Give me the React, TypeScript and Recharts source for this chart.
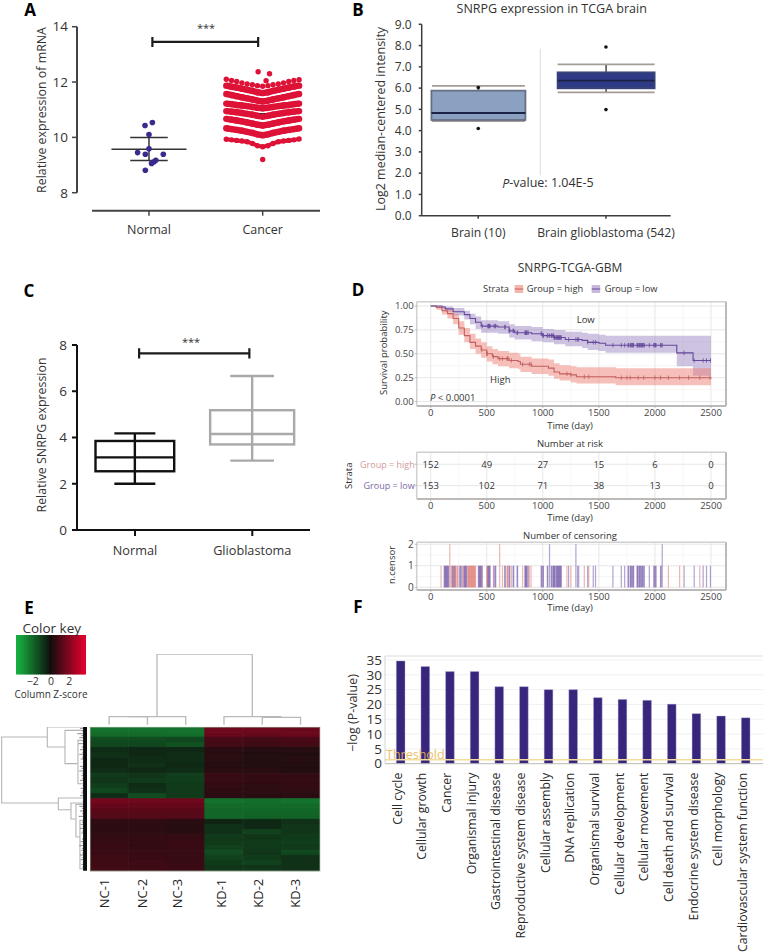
import {
  Area,
  Bar,
  BarChart,
  CartesianGrid,
  Cell,
  ComposedChart,
  Line,
  LineChart,
  ReferenceLine,
  Scatter,
  XAxis,
  YAxis,
} from 'recharts';

const FONT = '"Open Sans", sans-serif';

// ---- panel A
const normalDots = [
  { x: 1.03, y: 10.54 }, { x: 0.965, y: 10.43 }, { x: 1.0, y: 10.1 }, { x: 1.0, y: 9.59 },
  { x: 0.9, y: 9.45 }, { x: 0.968, y: 9.39 }, { x: 1.126, y: 9.39 }, { x: 1.06, y: 9.17 },
  { x: 1.044, y: 9.12 }, { x: 1.023, y: 9.06 }, { x: 0.968, y: 8.81 },
];
const swarmOffsets = [-0.32, -0.274, -0.229, -0.183, -0.137, -0.091, -0.046, 0, 0.046, 0.091, 0.137, 0.183, 0.229, 0.274, 0.32];
const swarmRows = [
  [12.1, 12.06, 12.02, 11.97, 11.93, 11.9, 11.87, 11.85, 11.87, 11.9, 11.93, 11.97, 12.02, 12.06, 12.08],
  [11.87, 11.83, 11.8, 11.76, 11.72, 11.68, 11.63, 11.6, 11.63, 11.68, 11.72, 11.76, 11.8, 11.84, 11.87],
  [11.57, 11.53, 11.49, 11.45, 11.41, 11.37, 11.33, 11.3, 11.33, 11.37, 11.41, 11.45, 11.49, 11.53, 11.57],
  [11.22, 11.2, 11.17, 11.15, 11.13, 11.1, 11.07, 11.05, 11.07, 11.1, 11.13, 11.15, 11.17, 11.2, 11.22],
  [10.95, 10.93, 10.91, 10.88, 10.85, 10.82, 10.78, 10.75, 10.78, 10.82, 10.85, 10.88, 10.91, 10.93, 10.95],
  [10.67, 10.64, 10.61, 10.58, 10.54, 10.5, 10.46, 10.43, 10.46, 10.5, 10.54, 10.58, 10.61, 10.64, 10.67],
  [10.33, 10.3, 10.27, 10.24, 10.2, 10.16, 10.11, 10.08, 10.11, 10.16, 10.2, 10.24, 10.27, 10.3, 10.33],
  [9.93, 9.91, 9.89, 9.87, 9.84, 9.78, 9.7, 9.66, 9.7, 9.78, 9.84, 9.87, 9.89, 9.91, 9.94],
];
const cancerOutliers = [
  { x: 1.96, y: 12.37 }, { x: 2.06, y: 12.3 }, { x: 2.03, y: 12.05 }, { x: 2.0, y: 9.2 },
];

// ---- panels B and C
const brainBoxes = [
  { x: 1, low: 4.45, q1: 4.5, median: 4.83, q3: 5.88, high: 6.1 },
  { x: 2, low: 5.8, q1: 5.99, median: 6.35, q3: 6.74, high: 7.12 },
];
const brainOutliers = [
  { x: 1, y: 6.03 }, { x: 1, y: 4.1 }, { x: 2, y: 7.93 }, { x: 2, y: 4.99 },
];
const brainTicks = [0, 1, 2, 3, 4, 5, 6, 7, 8, 9];
const brainNames = ['Brain (10)', 'Brain glioblastoma (542)'];

const gbmBoxes = [
  { x: 1, low: 2.0, q1: 2.54, median: 3.14, q3: 3.85, high: 4.18 },
  { x: 2, low: 3.0, q1: 3.7, median: 4.15, q3: 5.18, high: 6.66 },
];
const gbmNames = ['Normal', 'Glioblastoma'];

// ---- panel D
const highT = [0, 50, 100, 150, 200, 250, 300, 350, 400, 450, 500, 550, 600, 700, 780, 800, 900, 1050, 1100, 1150, 1250, 1300, 1650, 2500];
const highS = [1, 0.985, 0.95, 0.92, 0.87, 0.77, 0.69, 0.62, 0.58, 0.54, 0.5, 0.47, 0.45, 0.43, 0.42, 0.39, 0.37, 0.35, 0.31, 0.29, 0.28, 0.26, 0.25, 0.24];
const highUpper = [1, 1, 0.98, 0.96, 0.92, 0.84, 0.77, 0.71, 0.66, 0.62, 0.58, 0.55, 0.53, 0.51, 0.5, 0.47, 0.45, 0.44, 0.4, 0.38, 0.37, 0.36, 0.35, 0.35];
const highLower = [1, 0.96, 0.91, 0.87, 0.81, 0.7, 0.62, 0.55, 0.5, 0.46, 0.42, 0.39, 0.37, 0.35, 0.34, 0.31, 0.29, 0.27, 0.24, 0.22, 0.2, 0.19, 0.17, 0.17];
const lowT = [0, 100, 130, 200, 300, 350, 400, 450, 600, 700, 750, 900, 1000, 1100, 1200, 1350, 1400, 1500, 1560, 2195, 2340, 2500];
const lowS = [1, 0.99, 0.97, 0.94, 0.91, 0.87, 0.83, 0.79, 0.78, 0.74, 0.72, 0.71, 0.69, 0.67, 0.65, 0.64, 0.62, 0.61, 0.59, 0.51, 0.43, 0.43];
const lowUpper = [1, 1, 0.995, 0.98, 0.95, 0.92, 0.89, 0.85, 0.84, 0.81, 0.79, 0.78, 0.76, 0.75, 0.73, 0.72, 0.71, 0.7, 0.69, 0.69, 0.69, 0.69];
const lowLower = [1, 0.97, 0.94, 0.9, 0.86, 0.81, 0.76, 0.72, 0.71, 0.67, 0.65, 0.63, 0.62, 0.6, 0.58, 0.56, 0.54, 0.53, 0.51, 0.37, 0.27, 0.27];

const highCensor1 = [92, 180, 195, 205, 210, 220, 225, 235, 240, 290, 295, 330, 335, 340, 345, 350, 355, 360, 365, 370, 375, 380, 385, 390, 395, 400, 455, 500, 505, 560, 640, 680, 685, 690, 720, 820, 880, 895, 1215, 1250, 1370, 1410, 2120, 2220, 2400];
const highCensor2 = [170, 615];
const lowCensor1 = [120, 125, 130, 135, 140, 145, 150, 155, 160, 190, 200, 215, 255, 265, 270, 280, 300, 305, 310, 315, 320, 425, 430, 435, 440, 445, 450, 460, 510, 515, 520, 525, 530, 565, 575, 580, 660, 665, 700, 705, 735, 740, 770, 775, 840, 845, 850, 855, 860, 870, 985, 990, 1000, 1005, 1040, 1045, 1075, 1080, 1090, 1095, 1100, 1105, 1110, 1120, 1125, 1130, 1135, 1140, 1145, 1150, 1155, 1160, 1165, 1230, 1310, 1320, 1400, 1450, 1470, 1625, 1700, 1730, 1760, 1765, 1780, 1785, 1790, 1800, 1805, 1810, 1840, 1845, 1850, 1860, 1865, 1870, 1880, 1885, 1890, 1900, 1905, 1950, 1990, 1995, 2005, 2010, 2050, 2055, 2260, 2350, 2430, 2460, 2495];
const lowCensor2 = [1060, 1295, 2065];
const highExtraMarks = [1700, 1750, 1780, 1850, 1900, 2000, 2050, 2300, 2490];

const riskTimes = [0, 500, 1000, 1500, 2000, 2500];
const riskHigh = [152, 49, 27, 15, 6, 0];
const riskLow = [153, 102, 71, 38, 13, 0];

// ---- panel E
const heatColumns = ['NC-1', 'NC-2', 'NC-3', 'KD-1', 'KD-2', 'KD-3'];
const heatRows = [
  [-2.2, -2.2, -2.2, 1.7, 1.7, 1.6],
  [-2.0, -2.0, -2.1, 1.6, 1.5, 1.6],
  [-1.3, -1.3, -1.2, 1.0, 0.9, 1.0],
  [-1.2, -1.2, -1.4, 0.9, 0.8, 0.9],
  [-0.6, -0.5, -0.5, 0.45, 0.35, 0.35],
  [-0.7, -0.5, -0.6, 0.4, 0.3, 0.3],
  [-0.5, -0.6, -0.6, 0.4, 0.3, 0.35],
  [-0.5, -0.7, -0.5, 0.35, 0.3, 0.3],
  [-0.6, -0.5, -0.6, 0.4, 0.4, 0.3],
  [-0.9, -0.8, -1.0, 0.7, 0.6, 0.6],
  [-0.8, -0.9, -1.0, 0.7, 0.6, 0.65],
  [-1.0, -0.6, -0.9, 0.6, 0.5, 0.6],
  [-1.2, -0.7, -0.9, 0.5, 0.5, 0.55],
  [-0.6, -1.3, -0.9, 0.45, 0.4, 0.45],
  [1.8, 1.7, 1.7, -2.2, -2.1, -2.2],
  [1.5, 1.5, 1.5, -2.0, -2.0, -2.0],
  [1.3, 1.3, 1.3, -1.9, -1.9, -1.9],
  [1.2, 1.2, 1.2, -1.9, -1.8, -1.8],
  [0.5, 0.5, 0.4, -0.4, -0.5, -0.7],
  [0.45, 0.45, 0.35, -0.7, -0.5, -0.8],
  [0.5, 0.5, 0.4, -0.7, -1.1, -0.8],
  [0.6, 0.6, 0.6, -0.9, -0.8, -0.9],
  [0.65, 0.6, 0.7, -0.9, -0.9, -1.0],
  [0.7, 0.6, 0.7, -1.1, -0.9, -0.9],
  [0.7, 0.7, 0.7, -1.3, -0.8, -1.2],
  [0.8, 0.7, 0.7, -1.1, -0.9, -0.7],
  [0.8, 0.8, 0.7, -0.9, -1.1, -0.7],
  [0.85, 0.8, 0.75, -0.8, -0.8, -0.7],
];
const keySteps = [-3.75, -3.5, -3.25, -3, -2.75, -2.5, -2.25, -2, -1.75, -1.5, -1.25, -1, -0.75, -0.5, -0.25, 0, 0.25, 0.5, 0.75, 1, 1.25, 1.5, 1.75, 2, 2.25, 2.5, 2.75, 3, 3.25, 3.5, 3.75];
const colLinks = [
  [[1, 0], [1, 24], [2, 24], [2, 0]],
  [[1.5, 24], [3, 24], [3, 0]],
  [[2.25, 24], [2.25, 212], [4.74, 212], [4.74, 24]],
  [[4, 0], [4, 24], [5.5, 24]],
  [[5, 0], [5, 22], [6, 22], [6, 0]],
];
const rowLinks = [
  [[142, 30], [5, 30], [5, 228], [175, 228]],
  [[262, 0], [142, 0], [142, 60], [195, 60]],
  [[262, 10], [195, 10], [195, 110], [232, 110]],
  [[262, 213], [175, 213], [175, 248], [213, 248]],
  [[262, 228], [213, 228], [213, 276], [228, 276]],
  [[262, 232], [228, 232], [228, 330], [240, 330]],
  [[262, 40], [234, 40], [234, 170], [262, 170]],
  [[262, 280], [240, 280], [240, 425], [262, 425]],
];
const rowTwigs = [
  [240, 4], [232, 20], [238, 32], [236, 50], [240, 68], [238, 82], [242, 96], [240, 118], [238, 132], [244, 146], [240, 160], [242, 184], [244, 198], [240, 206],
  [238, 238], [240, 252], [236, 268], [242, 292], [240, 304], [244, 318], [242, 344], [238, 356], [244, 370], [240, 384], [242, 398], [244, 412],
  [246, 12], [244, 26], [248, 44], [245, 60], [247, 76], [246, 90], [248, 106], [245, 124], [247, 140], [246, 154], [248, 176], [246, 192], [248, 222],
  [246, 244], [247, 260], [246, 286], [248, 298], [247, 312], [246, 336], [248, 350], [246, 364], [247, 378], [246, 392], [248, 406], [247, 420],
];

// ---- panel F
const pathways = [
  'Cell cycle', 'Cellular growth', 'Cancer', 'Organismal injury', 'Gastrointestinal disease',
  'Reproductive system disease', 'Cellular assembly', 'DNA replication', 'Organismal survival',
  'Cellular development', 'Cellular movement', 'Cell death and survival', 'Endocrine system disease',
  'Cell morphology', 'Cardiovascular system function',
];
const pathwayValues = [34.7, 32.8, 31.1, 31.1, 26, 26, 25, 25, 22.3, 21.7, 21.4, 20.1, 16.9, 16.1, 15.5];
const pathwayTicks = [0, 5, 10, 15, 20, 25, 30, 35];

// ---- helpers
const zip = (t: number[], s: number[], lo: number[], hi: number[]) =>
  t.map((v, i) => ({ t: v, s: s[i], band: [lo[i], hi[i]] }));
const highCurve = zip(highT, highS, highLower, highUpper);
const lowCurve = zip(lowT, lowS, lowLower, lowUpper);

const stepValue = (curve: { t: number; s: number }[], t: number) => {
  let out = curve[0].s;
  curve.forEach((p) => {
    if (p.t <= t) out = p.s;
  });
  return out;
};
const highMarks = [...highCensor1, ...highCensor2]
  .filter((t) => t > 450)
  .concat(highExtraMarks)
  .map((t) => ({ t, s: stepValue(highCurve, t) }));
const lowMarks = [...lowCensor1, ...lowCensor2]
  .filter((t) => t > 450)
  .map((t) => ({ t, s: stepValue(lowCurve, t) }));

const censorTable = [
  ...highCensor1.map((t) => ({ t, high: 1, low: 0 })),
  ...highCensor2.map((t) => ({ t, high: 2, low: 0 })),
  ...lowCensor1.map((t) => ({ t, high: 0, low: 1 })),
  ...lowCensor2.map((t) => ({ t, high: 0, low: 2 })),
].sort((a, b) => a.t - b.t);

const riskTable = [
  ...riskTimes.map((t, i) => ({ t, row: 1, n: riskHigh[i] })),
  ...riskTimes.map((t, i) => ({ t, row: 0, n: riskLow[i] })),
];

const heatTable = heatColumns.map((name) => {
  const row: Record<string, number | string> = { name };
  heatRows.forEach((_, r) => {
    row[`r${r}`] = 1;
  });
  return row;
});

const pathwayTable = pathways.map((name, i) => ({ name, value: pathwayValues[i] }));

const toPts = (pts: number[][]) => pts.map(([x, y]) => ({ x, y }));
const bracket = (x1: number, x2: number, y: number, cap: number) =>
  toPts([[x1, y - cap], [x1, y + cap], [x1, y], [x2, y], [x2, y + cap], [x2, y - cap]]);

const heatColor = (z: number) => {
  const mix = (a: number[], b: number[], k: number) =>
    `rgb(${a.map((v, i) => Math.round(v + (b[i] - v) * k)).join(',')})`;
  if (z < 0) return mix([14, 18, 14], [22, 172, 62], Math.min(-z / 3.5, 1));
  return mix([18, 14, 14], [226, 0, 46], Math.min(z / 3.8, 1));
};

// draws a box and its whiskers from the range bar Recharts hands over
const boxShape = (st: any) => (p: any) => {
  const d = p.payload;
  const unit = Math.abs(p.height) / (d.q3 - d.q1);
  const yOf = (v: number) => p.y + (d.q3 - v) * unit;
  const cx = p.x + p.width / 2;
  const i = d.x - 1;
  const hb = st.box[i] / 2;
  const hc = st.capWidth[i] / 2;
  return (
    <g>
      <line x1={cx} x2={cx} y1={yOf(d.high)} y2={yOf(d.low)} stroke={st.whisker[i]} strokeWidth={st.strokeWidth} />
      <line x1={cx - hc} x2={cx + hc} y1={yOf(d.high)} y2={yOf(d.high)} stroke={st.cap[i]} strokeWidth={st.strokeWidth} />
      <line x1={cx - hc} x2={cx + hc} y1={yOf(d.low)} y2={yOf(d.low)} stroke={st.cap[i]} strokeWidth={st.strokeWidth} />
      <rect x={cx - hb} y={yOf(d.q3)} width={hb * 2} height={yOf(d.q1) - yOf(d.q3)} fill={st.fill[i]} stroke={st.stroke[i]} strokeWidth={st.strokeWidth} />
      <line x1={cx - hb} x2={cx + hb} y1={yOf(d.median)} y2={yOf(d.median)} stroke={st.median[i]} strokeWidth={st.strokeWidth} />
    </g>
  );
};

// bars sit closer than their width, so the width is set here and not by the band
const CensorBar = (color: string) => (p: any) =>
  p.height ? <rect x={p.x + p.width / 2 - 0.6} y={p.y} width={1.2} height={p.height} fill={color} fillOpacity={0.5} /> : <g />;
const KeyBar = (p: any) => (
  <rect x={p.x + p.width / 2 - 2} y={p.y} width={4} height={p.height} fill={heatColor(p.payload.z)} />
);

const Dot = (color: string, r: number) => (p: any) => <circle cx={p.cx} cy={p.cy} r={r} fill={color} />;
const CensorMark = (color: string) => (p: any) => (
  <line x1={p.cx} x2={p.cx} y1={p.cy - 2.2} y2={p.cy + 2.2} stroke={color} strokeWidth={0.8} />
);
const RiskText = (p: any) => (
  <text x={p.cx} y={p.cy} textAnchor="middle" dominantBaseline="central" fontSize={9.5} fill="#333">
    {p.payload.n}
  </text>
);
const RiskRowTick = (p: any) => (
  <text x={p.x + 1} y={p.y} textAnchor="end" dominantBaseline="central" fontSize={9} fill={p.payload.value === 1 ? '#cf9a9a' : '#7d67a8'}>
    {p.payload.value === 1 ? 'Group = high' : 'Group = low'}
  </text>
);
const heatNudge = [-4.1, -4.8, -7.7, -2, -3.3, -5];
const HeatTick = (p: any) => (
  <text
    transform={`translate(${p.x + heatNudge[p.index] + 4},${p.y}) rotate(-90)`}
    textAnchor="end"
    fontSize={13}
    fill="#222"
  >
    {p.payload.value}
  </text>
);
const PathwayTick = (p: any) => (
  <text
    transform={`translate(${p.x + 1.2},${p.y}) rotate(-90)`}
    textAnchor="end"
    fontSize={12.3}
    fill="#2a2a2a"
  >
    {p.payload.value}
  </text>
);

const T = ({ x, y, size = 13, anchor = 'middle', rot, fill = '#333', weight, opacity, children }: any) => (
  <text
    x={x}
    y={y}
    fontSize={size}
    textAnchor={anchor}
    dominantBaseline="central"
    fill={fill}
    fontWeight={weight}
    opacity={opacity}
    transform={rot ? `rotate(${rot} ${x} ${y})` : undefined}
  >
    {children}
  </text>
);

const at = (left: number, top: number): React.CSSProperties => ({ position: 'absolute', left, top });

const PanelA = () => (
  <div style={at(0, 0)}>
    <ComposedChart width={330} height={250} margin={{ top: 26.7, right: 10, bottom: 0, left: 0 }}>
      <XAxis
        dataKey="x"
        type="number"
        domain={[0.367, 2.504]}
        ticks={[1, 2]}
        height={39.3}
        tickFormatter={(v) => (v === 1 ? 'Normal' : 'Cancer')}
        axisLine={false}
        tickLine={{ stroke: '#444', strokeWidth: 1.5 }}
        tickSize={5}
        tickMargin={9}
        tick={{ fontSize: 12.5, fill: '#333' }}
      />
      <YAxis
        type="number"
        domain={[7.35, 14]}
        ticks={[8, 10, 12, 14]}
        interval={0}
        width={77}
        axisLine={false}
        tickLine={{ stroke: '#444', strokeWidth: 1.5 }}
        tickSize={5}
        tickMargin={4}
        tick={{ fontSize: 13.5, fill: '#333' }}
      />
      <Line data={toPts([[0.367, 8], [0.367, 14]])} dataKey="y" stroke="#444" strokeWidth={2} dot={false} isAnimationActive={false} />
      <Line data={toPts([[0.499, 7.35], [2.504, 7.35]])} dataKey="y" stroke="#444" strokeWidth={2} dot={false} isAnimationActive={false} />
      <Line data={bracket(1.03, 1.96, 13.45, 0.18)} dataKey="y" stroke="#1c1c1c" strokeWidth={2.2} dot={false} isAnimationActive={false} />
      {swarmRows.map((row, r) => (
        <Line
          key={r}
          data={row.map((y, i) => ({ x: 2 + swarmOffsets[i], y }))}
          dataKey="y"
          stroke={r === 0 ? 'none' : '#dd1236'}
          strokeWidth={r === 7 ? 4 : 6.4}
          dot={{ r: r === 0 || r === 7 ? 2.7 : 3.2, fill: '#dd1236', stroke: 'none' }}
          isAnimationActive={false}
        />
      ))}
      <Scatter data={cancerOutliers} dataKey="y" shape={Dot('#dd1236', 2.7)} isAnimationActive={false} />
      <Scatter data={normalDots} dataKey="y" shape={Dot('#3b2a8e', 2.8)} isAnimationActive={false} />
      <Line data={toPts([[1.905, 10.85], [2.095, 10.85]])} dataKey="y" stroke="#222" strokeWidth={1.5} dot={false} isAnimationActive={false} />
      <Line data={toPts([[0.67, 9.57], [1.33, 9.57]])} dataKey="y" stroke="#333" strokeWidth={1.5} dot={false} isAnimationActive={false} />
      <Line data={toPts([[0.835, 10], [1.165, 10]])} dataKey="y" stroke="#333" strokeWidth={1.5} dot={false} isAnimationActive={false} />
      <Line data={toPts([[0.835, 9.16], [1.165, 9.16]])} dataKey="y" stroke="#333" strokeWidth={1.5} dot={false} isAnimationActive={false} />
      <Line data={toPts([[1, 9.16], [1, 10]])} dataKey="y" stroke="#333" strokeWidth={1.5} dot={false} isAnimationActive={false} />
    </ComposedChart>
  </div>
);

const PanelB = () => (
  <div style={at(340, 0)}>
    <ComposedChart width={350} height={250} data={brainBoxes} margin={{ top: 24.3, right: 19.3, bottom: 0, left: 0 }}>
      <XAxis
        dataKey="x"
        type="number"
        domain={[0.557, 2.507]}
        ticks={[1, 2]}
        height={34.3}
        tickFormatter={(v) => brainNames[v - 1]}
        axisLine={{ stroke: '#3d3d3d', strokeWidth: 1.5 }}
        tickLine={{ stroke: '#3d3d3d', strokeWidth: 1.5 }}
        tickSize={3}
        tickMargin={10}
        tick={{ fontSize: 12.2, fill: '#333' }}
      />
      <YAxis
        type="number"
        domain={[0, 9]}
        ticks={brainTicks}
        interval={0}
        tickFormatter={(v) => v.toFixed(1)}
        width={81.7}
        axisLine={{ stroke: '#3d3d3d', strokeWidth: 1.5 }}
        tickLine={{ stroke: '#3d3d3d', strokeWidth: 1.5 }}
        tickSize={3}
        tickMargin={7}
        tick={{ fontSize: 12, fill: '#333' }}
      />
      <ReferenceLine segment={[{ x: 1.485, y: 7.85 }, { x: 1.485, y: 1.9 }]} stroke="#ddd" strokeWidth={1} />
      <Bar
        dataKey={(d: any) => [d.q1, d.q3]}
        barSize={96}
        isAnimationActive={false}
        shape={boxShape({
          fill: ['#8aa1c1', '#2f3a86'],
          stroke: ['#667085', '#3b4478'],
          median: ['#1a2447', '#1a2447'],
          whisker: ['#666', '#666'],
          cap: ['#a39d94', '#a39d94'],
          strokeWidth: 1.8,
          box: [94, 97],
          capWidth: [93, 97],
        })}
      />
      <Scatter data={brainOutliers} dataKey="y" shape={Dot('#111', 1.8)} isAnimationActive={false} />
    </ComposedChart>
  </div>
);

const PanelC = () => (
  <div style={at(0, 330)}>
    <ComposedChart width={330} height={230} data={gbmBoxes} margin={{ top: 15, right: 20, bottom: 0, left: 0 }}>
      <XAxis
        dataKey="x"
        type="number"
        domain={[0.5055, 2.492]}
        ticks={[1, 2]}
        height={30}
        tickFormatter={(v) => gbmNames[v - 1]}
        axisLine={{ stroke: '#111', strokeWidth: 2 }}
        tickLine={{ stroke: '#111', strokeWidth: 2 }}
        tickSize={6}
        tickMargin={10}
        tick={{ fontSize: 12.7, fill: '#333' }}
      />
      <YAxis
        type="number"
        domain={[0, 8]}
        ticks={[0, 2, 4, 6, 8]}
        interval={0}
        width={77}
        axisLine={{ stroke: '#111', strokeWidth: 2 }}
        tickLine={{ stroke: '#111', strokeWidth: 2 }}
        tickSize={5}
        tickMargin={5}
        tick={{ fontSize: 13.5, fill: '#333' }}
      />
      <Line data={bracket(1.035, 1.975, 7.64, 0.22)} dataKey="y" stroke="#1c1c1c" strokeWidth={2.2} dot={false} isAnimationActive={false} />
      <Bar
        dataKey={(d: any) => [d.q1, d.q3]}
        barSize={84}
        isAnimationActive={false}
        shape={boxShape({
          fill: ['none', 'none'],
          stroke: ['#111', '#a9a9a9'],
          median: ['#111', '#a9a9a9'],
          whisker: ['#111', '#a9a9a9'],
          cap: ['#111', '#a9a9a9'],
          strokeWidth: 2.4,
          box: [78.7, 84],
          capWidth: [41, 43.7],
        })}
      />
    </ComposedChart>
  </div>
);

const dTicks = [0, 500, 1000, 1500, 2000, 2500];
const dMinorX = [250, 750, 1250, 1750, 2250];
const dAxis = (height: number) => (
  <XAxis
    dataKey="t"
    type="number"
    domain={[-124.9, 2633.8]}
    ticks={dTicks}
    interval={0}
    height={height}
    axisLine={{ stroke: '#bdb9b9', strokeWidth: 2 }}
    tickLine={{ stroke: '#999', strokeWidth: 0.6 }}
    tickSize={2}
    tickMargin={1}
    tick={{ fontSize: 9.5, fill: '#444' }}
  />
);

const PanelD = () => (
  <div style={at(370, 295)}>
    <ComposedChart width={393} height={131} margin={{ top: 6.7, right: 37, bottom: 0, left: 0 }}>
      <CartesianGrid verticalValues={dMinorX} horizontalValues={[0.125, 0.375, 0.625, 0.875]} stroke="#f2f2f2" strokeWidth={0.7} />
      <CartesianGrid verticalValues={dTicks} horizontalValues={[0, 0.25, 0.5, 0.75, 1]} stroke="#e7e7e7" strokeWidth={1} />
      {dAxis(20)}
      <YAxis
        type="number"
        domain={[-0.046, 1.045]}
        ticks={[0, 0.25, 0.5, 0.75, 1]}
        interval={0}
        tickFormatter={(v) => v.toFixed(2)}
        width={46.7}
        axisLine={{ stroke: '#d2cfcf', strokeWidth: 1.5 }}
        tickLine={{ stroke: '#999', strokeWidth: 0.6 }}
        tickSize={2}
        tickMargin={1}
        tick={{ fontSize: 9.5, fill: '#444' }}
      />
      <ReferenceLine y={1.045} stroke="#d2cfcf" strokeWidth={1.5} />
      <ReferenceLine x={2633.8} stroke="#bdb9b9" strokeWidth={2} />
      <Area data={lowCurve} dataKey="band" type="stepAfter" fill="#8a6fb5" fillOpacity={0.42} stroke="none" isAnimationActive={false} />
      <Area data={highCurve} dataKey="band" type="stepAfter" fill="#ee8075" fillOpacity={0.5} stroke="none" isAnimationActive={false} />
      <Line data={highCurve} dataKey="s" type="stepAfter" stroke="#c4605f" strokeWidth={1.1} dot={false} isAnimationActive={false} />
      <Line data={lowCurve} dataKey="s" type="stepAfter" stroke="#66499c" strokeWidth={1.1} dot={false} isAnimationActive={false} />
      <Scatter data={highMarks} dataKey="s" shape={CensorMark('#c4605f')} isAnimationActive={false} />
      <Scatter data={lowMarks} dataKey="s" shape={CensorMark('#66499c')} isAnimationActive={false} />
    </ComposedChart>
  </div>
);

const PanelRisk = () => (
  <div style={at(340, 445)}>
    <ComposedChart width={423} height={75} margin={{ top: 7.3, right: 37, bottom: 0, left: 0 }}>
      <CartesianGrid verticalValues={dMinorX} horizontal={false} stroke="#f2f2f2" strokeWidth={0.7} />
      <CartesianGrid verticalValues={dTicks} horizontalValues={[0, 1]} stroke="#e7e7e7" strokeWidth={1} />
      {dAxis(21)}
      <YAxis
        type="number"
        domain={[-0.62, 1.56]}
        ticks={[0, 1]}
        interval={0}
        width={76.7}
        axisLine={{ stroke: '#d2cfcf', strokeWidth: 1.5 }}
        tickLine={{ stroke: '#999', strokeWidth: 0.6 }}
        tickSize={2}
        tickMargin={1}
        tick={RiskRowTick}
      />
      <ReferenceLine y={1.56} stroke="#d2cfcf" strokeWidth={1.5} />
      <ReferenceLine x={2633.8} stroke="#bdb9b9" strokeWidth={2} />
      <Scatter data={riskTable} dataKey="row" shape={RiskText} isAnimationActive={false} />
    </ComposedChart>
  </div>
);

const PanelCensor = () => (
  <div style={at(370, 535)}>
    <ComposedChart width={393} height={76} data={censorTable} margin={{ top: 7.3, right: 37, bottom: 0, left: 0 }}>
      <CartesianGrid verticalValues={dMinorX} horizontalValues={[0.5, 1.5]} stroke="#f2f2f2" strokeWidth={0.7} />
      <CartesianGrid verticalValues={dTicks} horizontalValues={[0, 1, 2]} stroke="#e7e7e7" strokeWidth={1} />
      {dAxis(21)}
      <YAxis
        type="number"
        domain={[-0.125, 2.09]}
        ticks={[0, 1, 2]}
        interval={0}
        width={46.7}
        axisLine={{ stroke: '#d2cfcf', strokeWidth: 1.5 }}
        tickLine={{ stroke: '#999', strokeWidth: 0.6 }}
        tickSize={2}
        tickMargin={1}
        tick={{ fontSize: 10, fill: '#444' }}
      />
      <ReferenceLine y={2.09} stroke="#d2cfcf" strokeWidth={1.5} />
      <ReferenceLine x={2633.8} stroke="#bdb9b9" strokeWidth={2} />
      <Bar dataKey="high" stackId="n" shape={CensorBar('#dc6f66')} isAnimationActive={false} />
      <Bar dataKey="low" stackId="n" shape={CensorBar('#6647a0')} isAnimationActive={false} />
    </ComposedChart>
  </div>
);

const KeyChart = () => (
  <div style={at(16.3, 635.3)}>
    <BarChart
      width={70}
      height={54}
      data={keySteps.map((z) => ({ z, v: 1 }))}
      margin={{ top: 0, right: 0, bottom: 0, left: 0 }}
    >
      <XAxis
        dataKey="z"
        type="number"
        domain={[-3.85, 3.85]}
        ticks={[-2, 0, 2]}
        interval={0}
        height={14.6}
        tickFormatter={(v) => (v < 0 ? `\u2212${-v}` : `${v}`)}
        axisLine={false}
        tickLine={false}
        tickSize={0}
        tickMargin={3}
        tick={{ fontSize: 10.5, fill: '#333' }}
      />
      <YAxis hide domain={[0, 1]} />
      <Bar dataKey="v" shape={KeyBar} isAnimationActive={false} />
    </BarChart>
  </div>
);

const HeatChart = () => (
  <div style={at(90.3, 727.3)}>
    <BarChart
      width={229.7}
      height={210}
      data={heatTable}
      barCategoryGap={0}
      margin={{ top: 0, right: 0, bottom: 0, left: 0 }}
    >
      <XAxis
        dataKey="name"
        height={66.3}
        interval={0}
        axisLine={false}
        tickLine={false}
        tickSize={0}
        tickMargin={8}
        tick={HeatTick}
      />
      <YAxis hide reversed domain={[0, heatRows.length]} />
      {heatRows.map((row, r) => (
        <Bar key={r} dataKey={`r${r}`} stackId="h" isAnimationActive={false}>
          {row.map((z, c) => (
            <Cell key={c} fill={heatColor(z)} stroke={heatColor(z)} strokeWidth={1} />
          ))}
        </Bar>
      ))}
    </BarChart>
  </div>
);

const ColTree = () => (
  <div style={at(90.3, 654.3)}>
    <LineChart width={229.7} height={70.7} margin={{ top: 0, right: 0, bottom: 0, left: 0 }}>
      <XAxis hide dataKey="x" type="number" domain={[0.5, 6.5]} />
      <YAxis hide type="number" domain={[0, 212]} />
      {colLinks.map((link, i) => (
        <Line key={i} data={toPts(link)} dataKey="y" stroke="#b9b9b9" strokeWidth={1.3} dot={false} isAnimationActive={false} />
      ))}
    </LineChart>
  </div>
);

const RowTree = () => (
  <div style={at(0, 727.3)}>
    <LineChart width={87.3} height={143.7} margin={{ top: 0, right: 0, bottom: 0, left: 0 }}>
      <XAxis hide dataKey="x" type="number" domain={[0, 262]} />
      <YAxis hide reversed type="number" domain={[0, 431]} />
      {rowLinks.map((link, i) => (
        <Line key={i} data={toPts(link)} dataKey="y" stroke="#b5b5b5" strokeWidth={1.1} dot={false} isAnimationActive={false} />
      ))}
      {rowTwigs.map(([h, pos], i) => (
        <Line key={`t${i}`} data={toPts([[h, pos], [262, pos]])} dataKey="y" stroke="#6e6e6e" strokeWidth={0.8} dot={false} isAnimationActive={false} />
      ))}
      <Line data={toPts([[256, 0], [256, 431]])} dataKey="y" stroke="#0c0c0c" strokeWidth={4.4} dot={false} isAnimationActive={false} />
    </LineChart>
  </div>
);

const PanelF = () => (
  <div style={at(350, 640)}>
    <BarChart width={413} height={312} data={pathwayTable} margin={{ top: 16, right: 0, bottom: 0, left: 0 }}>
      <CartesianGrid vertical={false} horizontalValues={pathwayTicks.slice(1)} stroke="#f1f1f1" strokeWidth={1} />
      <XAxis
        dataKey="name"
        interval={0}
        height={188.3}
        padding={{ left: 3.3, right: 5 }}
        axisLine={{ stroke: '#b9b9b9', strokeWidth: 1 }}
        tickLine={false}
        tickSize={0}
        tickMargin={9}
        tick={PathwayTick}
      />
      <YAxis
        type="number"
        domain={[0, 36.35]}
        ticks={pathwayTicks}
        interval={0}
        width={35}
        axisLine={{ stroke: '#d4d4d4', strokeWidth: 1 }}
        tickLine={false}
        tickSize={0}
        tickMargin={3}
        tick={{ fontSize: 13.5, fill: '#333' }}
      />
      <ReferenceLine y={36.35} stroke="#dcdcdc" strokeWidth={1} />
      <Bar dataKey="value" barSize={8.7} fill="#38267c" stroke="#b9b2d6" strokeWidth={0.4} isAnimationActive={false} />
      <ReferenceLine y={1.3} stroke="#f3dca0" strokeWidth={1.5} />
    </BarChart>
  </div>
);

const Overlay = () => (
  <svg width={763} height={952} style={{ position: 'absolute', left: 0, top: 0, pointerEvents: 'none' }}>
    <T x={30} y={9.5} size={17} weight={700} fill="#000">A</T>
    <T x={358} y={9.5} size={17} weight={700} fill="#000">B</T>
    <T x={29} y={290} size={17} weight={700} fill="#000">C</T>
    <T x={358} y={289} size={17} weight={700} fill="#000">D</T>
    <T x={29} y={607} size={17} weight={700} fill="#000">E</T>
    <T x={358} y={606} size={17} weight={700} fill="#000">F</T>

    <T x={41} y={110} size={12.4} rot={-90}>Relative expression of mRNA</T>
    <T x={206} y={27} size={11}>***</T>
    <T x={380} y={119} size={12.5} rot={-90}>Log2 median-centered intensity</T>
    <T x={551.7} y={8} size={12.5}>SNRPG expression in TCGA brain</T>
    <text x={548} y={182.7} fontSize={12.5} textAnchor="middle" dominantBaseline="central" fill="#333">
      <tspan fontStyle="italic">P</tspan>-value: 1.04E-5
    </text>
    <T x={41} y={435} size={12.4} rot={-90}>Relative SNRPG expression</T>
    <T x={191} y={341} size={11}>***</T>

    <T x={570} y={267} size={12}>SNRPG-TCGA-GBM</T>
    <T x={496} y={288} size={9.3}>Strata</T>
    <rect x={514.7} y={285} width={8.5} height={8} fill="#f3b5ac" />
    <line x1={514.7} x2={523.2} y1={289} y2={289} stroke="#c4605f" strokeWidth={1} />
    <T x={526.7} y={288.7} size={9.3} anchor="start">Group = high</T>
    <rect x={591.7} y={285} width={8.5} height={8} fill="#c9b8dd" />
    <line x1={591.7} x2={600.2} y1={289} y2={289} stroke="#66499c" strokeWidth={1} />
    <T x={604.7} y={288.7} size={9.3} anchor="start">Group = low</T>
    <T x={384} y={352.7} size={9.5} rot={-90}>Survival probability</T>
    <T x={585.7} y={319.3} size={9.5}>Low</T>
    <T x={500.3} y={379.7} size={9.5}>High</T>
    <text x={430} y={397.3} fontSize={9.5} dominantBaseline="central" fill="#333">
      <tspan fontStyle="italic">P</tspan> &lt; 0.0001
    </text>
    <T x={570} y={425.7} size={9.5}>Time (day)</T>
    <T x={570} y={443.3} size={9.5}>Number at risk</T>
    <T x={349} y={475.7} size={9.5} rot={-90}>Strata</T>
    <T x={570} y={517} size={9.5}>Time (day)</T>
    <T x={570} y={535.3} size={9.5}>Number of censoring</T>
    <T x={391.7} y={565} size={9.5} rot={-90}>n.censor</T>
    <T x={570} y={607} size={9.5}>Time (day)</T>

    <T x={51.7} y={628} size={13.5}>Color key</T>
    <T x={51} y={694.3} size={10}>Column Z-score</T>
    <rect x={90.3} y={727.3} width={229.7} height={143.7} fill="none" stroke="#aebaa6" strokeOpacity={0.6} strokeWidth={1} />
    <T x={352} y={713} size={12.5} rot={-90}>{'\u2212log (P-value)'}</T>
    <T x={386} y={754} size={12.5} anchor="start" fill="#e9bb57" opacity={0.9}>Threshold</T>
  </svg>
);

export default function App() {
  return (
    <div style={{ position: 'absolute', left: 0, top: 0, width: 763, height: 952, fontFamily: FONT, background: '#fff', overflow: 'hidden' }}>
      <PanelA />
      <PanelB />
      <PanelC />
      <PanelD />
      <PanelRisk />
      <PanelCensor />
      <KeyChart />
      <ColTree />
      <RowTree />
      <HeatChart />
      <PanelF />
      <Overlay />
    </div>
  );
}
